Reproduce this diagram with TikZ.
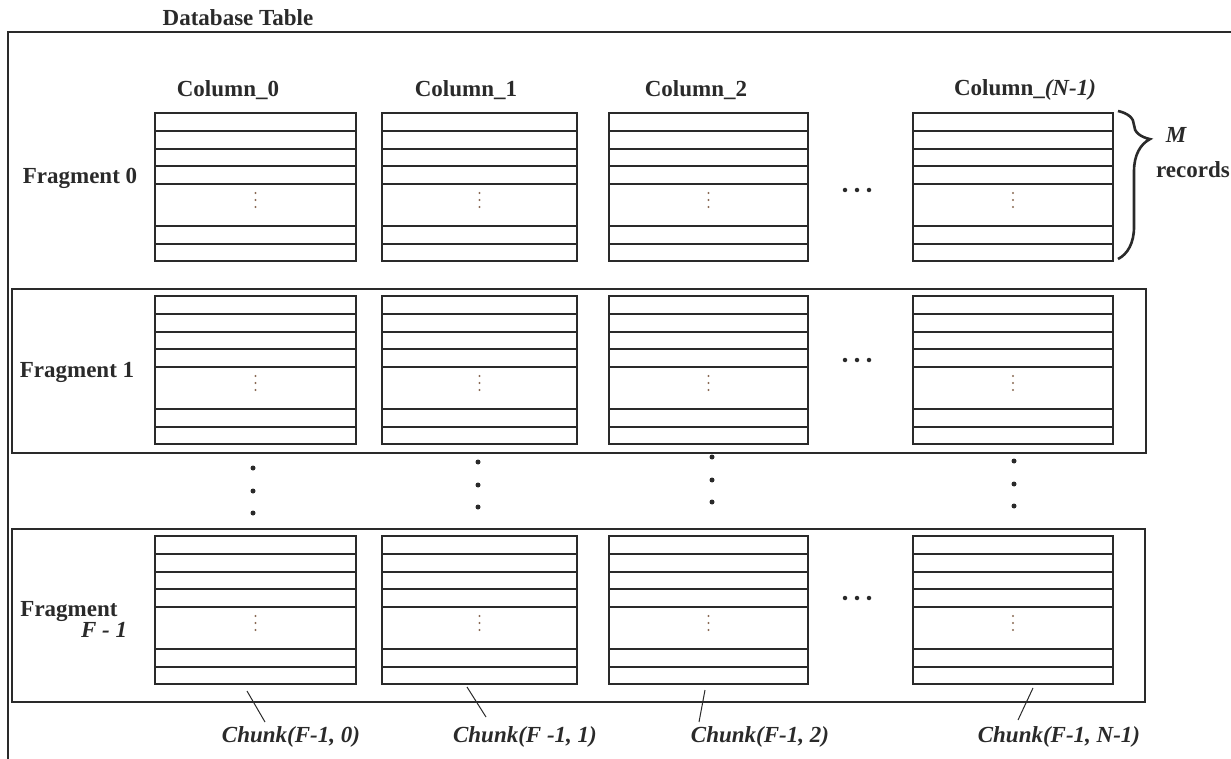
\documentclass[tikz,border=0pt]{standalone}
\usepackage{fontspec}
\setmainfont{Liberation Serif}
\usetikzlibrary{decorations.pathreplacing}

\definecolor{ink}{HTML}{2A2A2A}
\definecolor{dotbrown}{HTML}{8A6A55}

\tikzset{
  chunk/.style={draw=ink, line width=1.2pt, inner sep=0pt, outer sep=0pt,
    minimum height=148pt, anchor=north west},
  fragbox/.style={draw=ink, line width=1.3pt, inner sep=0pt, outer sep=0pt,
    anchor=north west},
  lbl/.style={font=\bfseries, text=ink, inner sep=0pt},
  chunklbl/.style={font=\bfseries\itshape, text=ink, inner sep=0pt},
  bigdot/.style={fill=ink, circle, inner sep=0pt, minimum size=5pt},
}

\begin{document}
\fontsize{23}{27}\selectfont
\begin{tikzpicture}[x=1pt, y=-1pt]
\useasboundingbox (0,0) rectangle (1231,759);

% outer table frame (runs off to the right and bottom)
\draw[ink, line width=1.3pt] (1231,32) -| (8,759);
\node[lbl] (title) at (238,18) {Database Table};

% column headers
\node[lbl] (col0) at (228,90) {Column\_0};
\node[lbl] (col1) at (466,90) {Column\_1};
\node[lbl] (col2) at (696,90) {Column\_2};
\node[lbl] (col3) at (1025,90) {Column\_\textit{(N-1)}};

% fragment frames
\node[fragbox, minimum width=1134pt, minimum height=164pt] (frag1) at (12,289) {};
\node[fragbox, minimum width=1133pt, minimum height=173pt] (fragF) at (12,529) {};

% chunks: one per fragment and column
\foreach \f/\ty in {0/113, 1/296, 2/536} {
  \foreach \c/\cx/\cw in {0/155/201, 1/382/195, 2/609/199, 3/913/200} {
    \node[chunk, minimum width=\cw pt] (ch-\f-\c) at (\cx,\ty) {};
    \foreach \dd in {18,36,53,71,113,131}
      \draw[ink, line width=1.1pt] ([yshift=-\dd pt]ch-\f-\c.north west) -- ([yshift=-\dd pt]ch-\f-\c.north east);
    \foreach \kk in {80,87,94}
      \fill[dotbrown] ([yshift=-\kk pt]ch-\f-\c.north) circle (1.2pt);
  }
}

% fragment labels
\node[lbl] (f0) at (80,178) {Fragment 0};
\node[lbl] (f1) at (77,372) {Fragment 1};
\node[lbl] (fF) at (69,612) {Fragment};
\node[chunklbl] (fFn) at (104,630) {F - 1};

% dots between columns
\foreach \yy [count=\i] in {190,360,598}
  \foreach \xx in {845,857,869}
    \node[bigdot, minimum size=4.5pt] (h-\i-\xx) at (\xx,\yy) {};

% dots between fragments
\foreach \xx/\yy in {253/468, 478/462, 712/457, 1014/461}
  \foreach \kk in {0,23,45}
    \node[bigdot] at (\xx,\yy+\kk) {};

% records brace
\draw[ink, line width=2.6pt, decorate,
  decoration={brace, amplitude=32pt, aspect=0.19}] (1118,111) -- (1118,259);
\node[font=\bfseries\itshape, text=ink, inner sep=0pt] (m) at (1176,135) {M};
\node[lbl] (rec) at (1193,170) {records};

% chunk labels and leaders
\node[chunklbl] (lab0) at (291,737) {Chunk(F-1, 0)};
\node[chunklbl] (lab1) at (525,737) {Chunk(F -1, 1)};
\node[chunklbl] (lab2) at (760,737) {Chunk(F-1, 2)};
\node[chunklbl] (lab3) at (1059,737) {Chunk(F-1, N-1)};
\coordinate (a0) at (247,691); \coordinate (b0) at (265,722);
\coordinate (a1) at (467,687); \coordinate (b1) at (486,717);
\coordinate (a2) at (705,690); \coordinate (b2) at (699,722);
\coordinate (a3) at (1033,688); \coordinate (b3) at (1018,720);
\foreach \i in {0,...,3}
  \draw[ink, line width=1pt] (a\i) -- (b\i);

\end{tikzpicture}
\end{document}
